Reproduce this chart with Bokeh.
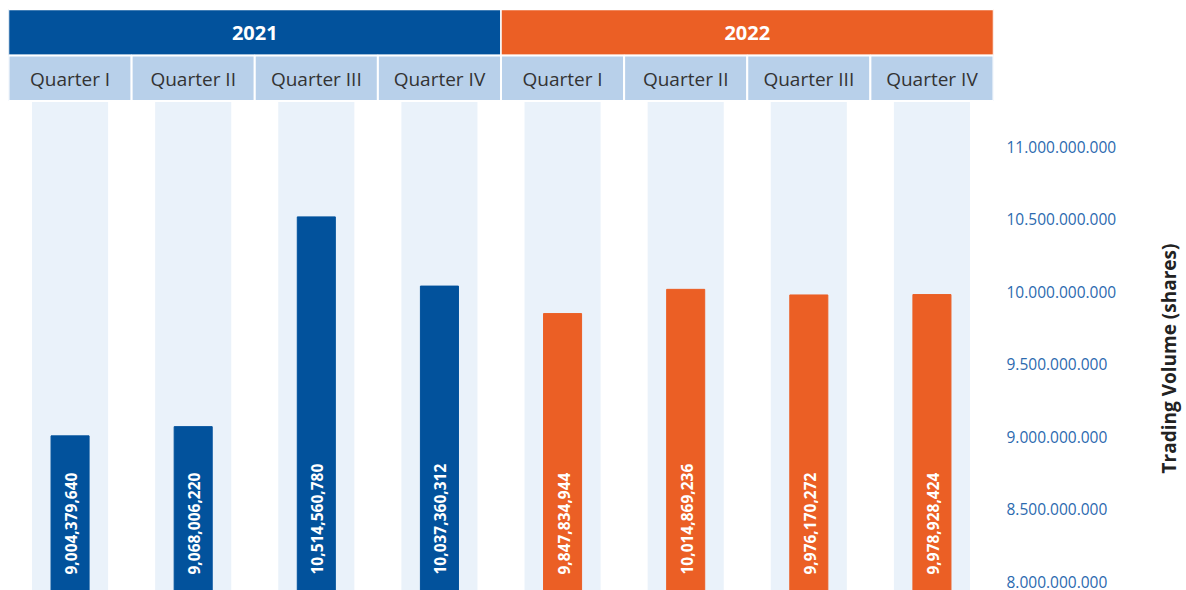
import math
from bokeh.plotting import figure
from bokeh.layouts import row
from bokeh.models import (ColumnDataSource, LinearAxis, FixedTicker, Range1d)
from bokeh.core.properties import value
from bokeh.embed import file_html
from bokeh.resources import INLINE

# ---- data ----
years = ["2021", "2022"]
quarters = ["Quarter I", "Quarter II", "Quarter III", "Quarter IV",
            "Quarter I", "Quarter II", "Quarter III", "Quarter IV"]
volumes = [9004379640, 9068006220, 10514560780, 10037360312,
           9847834944, 10014869236, 9976170272, 9978928424]
tick_values = [8000000000, 8500000000, 9000000000, 9500000000,
               10000000000, 10500000000, 11000000000]
axis_title = "Trading Volume (shares)"

BLUE = "#02529C"
ORANGE = "#EB5F25"
year_colors = [BLUE, ORANGE]
bar_colors = [BLUE] * 4 + [ORANGE] * 4

# ---- layout (page pixel geometry) ----
H = 590
MAIN_W = 1130
SIDE_W = 1186 - MAIN_W
FRAME_L = 8
FRAME_W = 985
Y0_PAGE = 581          # page y of 8.000.000.000
PX_PER_UNIT = 145 / 1e9
Y_START = tick_values[0] - (H - Y0_PAGE) / PX_PER_UNIT
Y_END = tick_values[0] + Y0_PAGE / PX_PER_UNIT
N = len(quarters)


def y_at(page_y):
    return Y_END - page_y / H * (Y_END - Y_START)


p = figure(width=MAIN_W, height=H, output_backend="svg", toolbar_location=None,
           x_range=Range1d(0, N), y_range=Range1d(Y_START, Y_END),
           x_axis_location=None, y_axis_location=None,
           min_border_left=FRAME_L, min_border_top=0, min_border_bottom=0,
           min_border_right=MAIN_W - FRAME_L - FRAME_W)
p.outline_line_color = None
p.xgrid.visible = False
p.ygrid.visible = False

xs = [i + 0.5 for i in range(N)]
col_half = 0.309
bar_w = 0.309

# background columns
p.quad(left=[x - col_half for x in xs], right=[x + col_half for x in xs],
       top=y_at(101), bottom=Y_START, fill_color="#EAF2FA", line_color=None)

# bars
src = ColumnDataSource(dict(x=xs, top=volumes, color=bar_colors,
                            label=[f"{v:,}" for v in volumes]))
p.vbar(x="x", width=bar_w, top="top", bottom=Y_START, color="color", source=src)

p.text(x="x", y=y_at(574), text="label", source=src, angle=math.pi / 2,
       text_align="left", text_baseline="middle", text_color="white",
       text_font=value("Open Sans"), text_font_style="bold",
       text_font_size="15.5px", x_offset=1)

# year header
nq = N // len(years)
p.quad(left=[i * nq for i in range(len(years))],
       right=[(i + 1) * nq for i in range(len(years))],
       top=y_at(9), bottom=y_at(55), fill_color=year_colors,
       line_color="white", line_width=1.5)
p.text(x=[i * nq + nq / 2 for i in range(len(years))], y=y_at(32), text=years,
       text_align="center", text_baseline="middle", text_color="white",
       text_font=value("Open Sans"), text_font_style="bold",
       text_font_size="20px")

# quarter header
p.quad(left=list(range(N)), right=[i + 1 for i in range(N)],
       top=y_at(55), bottom=y_at(100.5), fill_color="#B8D0EA",
       line_color="white", line_width=2)
p.text(x=xs, y=y_at(78), text=quarters, text_align="center",
       text_baseline="middle", text_color="#333333",
       text_font=value("Open Sans"), text_font_size="19px")

# right axis
ax = LinearAxis(ticker=FixedTicker(ticks=tick_values))
ax.major_label_overrides = {t: f"{t:,}".replace(",", ".") for t in tick_values}
ax.axis_line_color = None
ax.major_tick_line_color = None
ax.minor_tick_line_color = None
ax.major_tick_out = 0
ax.major_tick_in = 0
ax.major_label_standoff = 13
ax.major_label_text_color = "#2C6AAF"
ax.major_label_text_font = "Open Sans"
ax.major_label_text_font_size = "15.5px"
p.add_layout(ax, "right")

# side panel with the axis title
s = figure(width=SIDE_W, height=H, output_backend="svg", toolbar_location=None,
           x_range=Range1d(0, SIDE_W), y_range=Range1d(0, H),
           x_axis_location=None, y_axis_location=None,
           min_border_left=0, min_border_right=0, min_border_top=0,
           min_border_bottom=0)
s.outline_line_color = None
s.xgrid.visible = False
s.ygrid.visible = False
s.text(x=[1168 - MAIN_W], y=[H - 358], text=[axis_title], angle=math.pi / 2,
       text_align="center", text_baseline="middle", text_color="#222222",
       text_font=value("Open Sans"), text_font_style="bold",
       text_font_size="19px")

layout = row(p, s, spacing=0)
open("out.html", "w").write(file_html(layout, INLINE))
